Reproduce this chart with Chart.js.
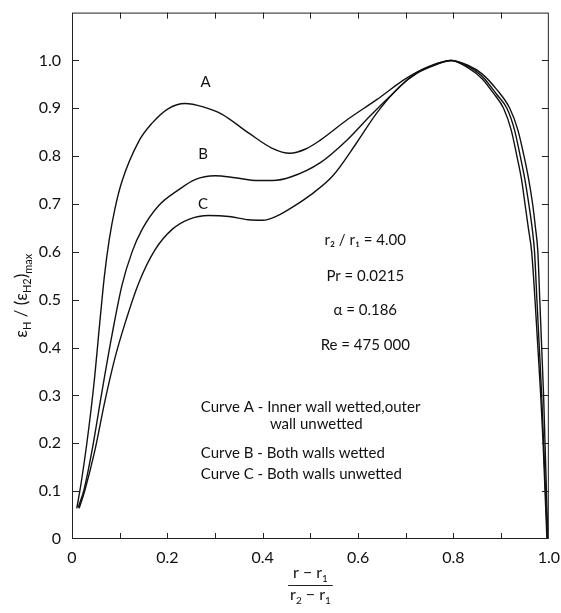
<!DOCTYPE html>
<html>
<head>
<meta charset="utf-8">
<script src="https://cdn.jsdelivr.net/npm/chart.js@4/dist/chart.umd.min.js"></script>
<style>
html,body{margin:0;padding:0;background:#fff;}
#wrap{width:561px;height:613px;position:relative;}
</style>
</head>
<body>
<div id="wrap"><canvas id="c"></canvas></div>
<script>
// ---- data ----
const xA = [0.010,0.019,0.031,0.046,0.059,0.068,0.078,0.090,0.105,0.140,0.168,0.203,0.237,0.275,0.314,0.371,0.419,0.457,0.490,0.520,0.577,0.639,0.700,0.750,0.795,0.830,0.860,0.890,0.912,0.928,0.940,0.950,0.958,0.965,0.970,0.975,0.980,0.985,0.989,0.993,0.997];
const yA = [0.064,0.116,0.199,0.324,0.460,0.550,0.625,0.690,0.748,0.831,0.869,0.900,0.910,0.903,0.888,0.848,0.817,0.806,0.815,0.833,0.876,0.918,0.962,0.988,1.000,0.988,0.967,0.930,0.900,0.855,0.800,0.750,0.700,0.650,0.600,0.500,0.400,0.300,0.200,0.100,0.000];

const xB = [0.013,0.025,0.042,0.063,0.084,0.105,0.126,0.147,0.182,0.224,0.258,0.300,0.342,0.390,0.420,0.460,0.520,0.577,0.625,0.673,0.715,0.755,0.795,0.830,0.860,0.890,0.918,0.935,0.948,0.958,0.966,0.972,0.977,0.981,0.985,0.989,0.992,0.995,0.998];
const yB = [0.066,0.102,0.185,0.309,0.427,0.531,0.600,0.647,0.697,0.730,0.751,0.759,0.755,0.749,0.749,0.757,0.786,0.834,0.884,0.931,0.969,0.989,1.000,0.990,0.972,0.940,0.900,0.855,0.800,0.750,0.700,0.650,0.600,0.500,0.400,0.300,0.200,0.100,0.000];

const xC = [0.015,0.027,0.048,0.069,0.090,0.111,0.140,0.174,0.210,0.245,0.287,0.329,0.370,0.400,0.430,0.465,0.499,0.547,0.597,0.639,0.688,0.723,0.760,0.795,0.830,0.860,0.885,0.905,0.921,0.933,0.943,0.950,0.957,0.964,0.971,0.977,0.983,0.988,0.992,0.996];
const yC = [0.064,0.102,0.185,0.288,0.378,0.450,0.535,0.604,0.647,0.668,0.676,0.674,0.667,0.666,0.675,0.695,0.718,0.759,0.828,0.890,0.946,0.973,0.990,1.000,0.985,0.962,0.930,0.900,0.855,0.800,0.750,0.700,0.650,0.600,0.500,0.400,0.300,0.200,0.100,0.000];

const curveNames = ["A","B","C"];
const xTickLabels = ["0","0.2","0.4","0.6","0.8","1.0"];
const yTickLabels = ["0","0.1","0.2","0.3","0.4","0.5","0.6","0.7","0.8","0.9","1.0"];
const paramLines = ["r₂ / r₁ = 4.00","Pr = 0.0215","α = 0.186","Re = 475 000"];
const noteLines = ["Curve A - Inner wall wetted,outer","wall unwetted","Curve B - Both walls wetted","Curve C - Both walls unwetted"];

const FONT = "Lato, 'DejaVu Sans', sans-serif";

function pts(xs, ys){ return xs.map((x,i)=>({x:x,y:ys[i]})); }

const ds = [[xA,yA],[xB,yB],[xC,yC]].map((p,i)=>({
  label: curveNames[i],
  data: pts(p[0],p[1]),
  showLine: true,
  borderColor: '#111',
  borderWidth: 1.4,
  pointRadius: 0,
  cubicInterpolationMode: 'monotone',
  fill: false
}));

const frame = {
  id: 'frame',
  afterDraw(chart){
    const ctx = chart.ctx, a = chart.chartArea;
    const xs = chart.scales.x, ys = chart.scales.y;
    ctx.save();
    ctx.strokeStyle = '#222';
    ctx.lineWidth = 1;
    ctx.strokeRect(a.left+0.5, a.top+0.5, a.right-a.left-1, a.bottom-a.top-1);
    ctx.beginPath();
    for(let i=1;i<10;i++){
      const px = Math.round(xs.getPixelForValue(i/10))+0.5;
      ctx.moveTo(px,a.bottom); ctx.lineTo(px,a.bottom-6);
      ctx.moveTo(px,a.top); ctx.lineTo(px,a.top+6);
    }
    for(let i=1;i<=10;i++){
      const py = Math.round(ys.getPixelForValue(i/10))+0.5;
      ctx.moveTo(a.left,py); ctx.lineTo(a.left+7,py);
      ctx.moveTo(a.right,py); ctx.lineTo(a.right-7,py);
    }
    ctx.stroke();

    ctx.fillStyle = '#111';
    // curve letters
    ctx.font = '15px ' + FONT;
    ctx.textAlign = 'center'; ctx.textBaseline = 'middle';
    const lab = [[0.28,0.955],[0.275,0.805],[0.275,0.70]];
    lab.forEach((p,i)=>ctx.fillText(curveNames[i], xs.getPixelForValue(p[0]), ys.getPixelForValue(p[1])));

    // parameter block
    ctx.font = '15px ' + FONT;
    const cx = xs.getPixelForValue(0.615);
    const pY = [0.625,0.55,0.478,0.405];
    paramLines.forEach((t,i)=>ctx.fillText(t, cx, ys.getPixelForValue(pY[i])));

    // notes
    ctx.textAlign = 'left';
    const nx = [0.27,0.415,0.27,0.27];
    const nY = [0.275,0.24,0.18,0.135];
    noteLines.forEach((t,i)=>ctx.fillText(t, xs.getPixelForValue(nx[i]), ys.getPixelForValue(nY[i])));

    // y axis title (rotated rich text)
    const segs = [["ε",17,0],["H",11,4],[" / (",17,0],["ε",17,0],["H2",11,4],[")",17,0],["max",11,5]];
    let w = 0;
    segs.forEach(s=>{ctx.font = s[1]+'px '+FONT; w += ctx.measureText(s[0]).width;});
    ctx.translate(22, (a.top+a.bottom)/2 + 20);
    ctx.rotate(-Math.PI/2);
    let x0 = -w/2;
    ctx.textAlign = 'left'; ctx.textBaseline = 'alphabetic';
    segs.forEach(s=>{ctx.font = s[1]+'px '+FONT; ctx.fillText(s[0], x0, 5 + s[2]); x0 += ctx.measureText(s[0]).width;});
    ctx.setTransform(1,0,0,1,0,0);

    // x axis title (fraction)
    const fx = (a.left+a.right)/2;
    const num = [["r − r",16,0],["1",10,4]];
    const den = [["r",16,0],["2",10,4],[" − r",16,0],["1",10,4]];
    function rich(parts, cxp, base){
      let ww=0; parts.forEach(s=>{ctx.font=s[1]+'px '+FONT; ww+=ctx.measureText(s[0]).width;});
      let xx = cxp-ww/2;
      parts.forEach(s=>{ctx.font=s[1]+'px '+FONT; ctx.fillText(s[0], xx, base+s[2]); xx+=ctx.measureText(s[0]).width;});
      return ww;
    }
    const wn = rich(num, fx, 578);
    const wd = rich(den, fx, 600);
    ctx.beginPath();
    ctx.moveTo(fx-Math.max(wn,wd)/2-2, 585.5); ctx.lineTo(fx+Math.max(wn,wd)/2+2, 585.5);
    ctx.stroke();
    ctx.restore();
  }
};

new Chart(document.getElementById('c'), {
  type: 'scatter',
  data: { datasets: ds },
  options: {
    responsive: true,
    maintainAspectRatio: false,
    animation: false,
    layout: { padding: { top: 10, right: 12, left: 0, bottom: 0 } },
    plugins: { legend: { display: false }, tooltip: { enabled: false } },
    scales: {
      x: {
        type: 'linear', min: 0, max: 1,
        grid: { display: false },
        border: { display: false },
        ticks: {
          stepSize: 0.1, color: '#111', padding: 1,
          font: { family: FONT, size: 16 },
          maxRotation: 0, autoSkip: false,
          callback: v => { const k = Math.round(v*10); return k%2===0 ? xTickLabels[k/2] : ''; }
        },
        afterFit: s => { s.height = 74; }
      },
      y: {
        type: 'linear', min: 0, max: 1.10,
        grid: { display: false },
        border: { display: false },
        ticks: {
          stepSize: 0.1, color: '#111', padding: 3,
          font: { family: FONT, size: 16 },
          autoSkip: false,
          callback: v => { const k = Math.round(v*10); return k<=10 ? yTickLabels[k] : ''; }
        },
        afterFit: s => { s.width = 72; }
      }
    }
  },
  plugins: [frame]
});
</script>
</body>
</html>
